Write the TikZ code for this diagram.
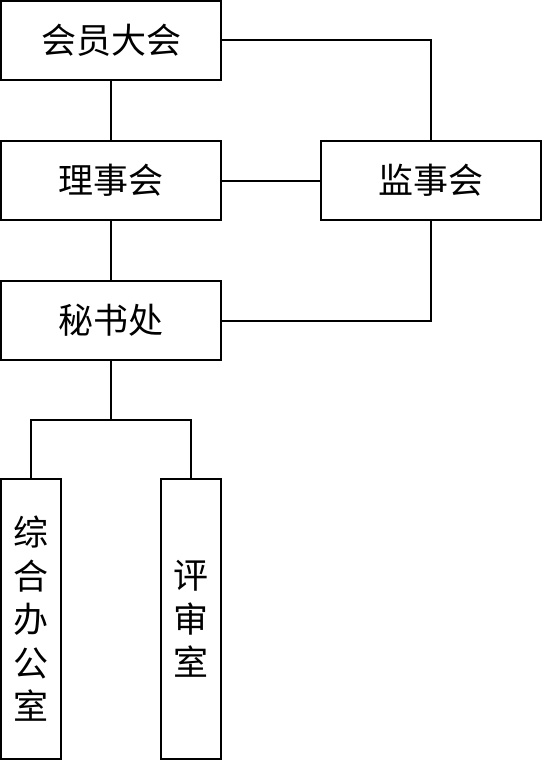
\documentclass[tikz,border=0pt]{standalone}
\usepackage{fontspec}
\setmainfont{Noto Sans CJK SC}
\begin{document}
\begin{tikzpicture}[x=1pt,y=-1pt,
  box/.style={draw, line width=2pt, inner sep=0pt, font=\fontsize{35}{43.5}\selectfont},
  wide/.style={box, minimum width=220pt, minimum height=79pt},
  tall/.style={box, minimum width=60pt, minimum height=280pt, align=center},
  link/.style={line width=2pt}]
\useasboundingbox (0,0) rectangle (542,760);
\node[wide] (hy) at (111,40.5) {会员大会};
\node[wide] (ls) at (111,180.5) {理事会};
\node[wide] (js) at (431,180.5) {监事会};
\node[wide] (ms) at (111,320.5) {秘书处};
\node[tall] (zh) at (31,619) {综\\合\\办\\公\\室};
\node[tall] (ps) at (191,619) {评\\审\\室};
\coordinate (split) at (111,420);
\draw[link] (hy) -- (ls);
\draw[link] (hy.east) -| (js.north);
\draw[link] (ls) -- (js);
\draw[link] (ls) -- (ms);
\draw[link] (js.south) |- (ms.east);
\draw[link] (ms.south) -- (split);
\draw[link] (zh.north) |- (split) -| (ps.north);
\end{tikzpicture}
\end{document}
